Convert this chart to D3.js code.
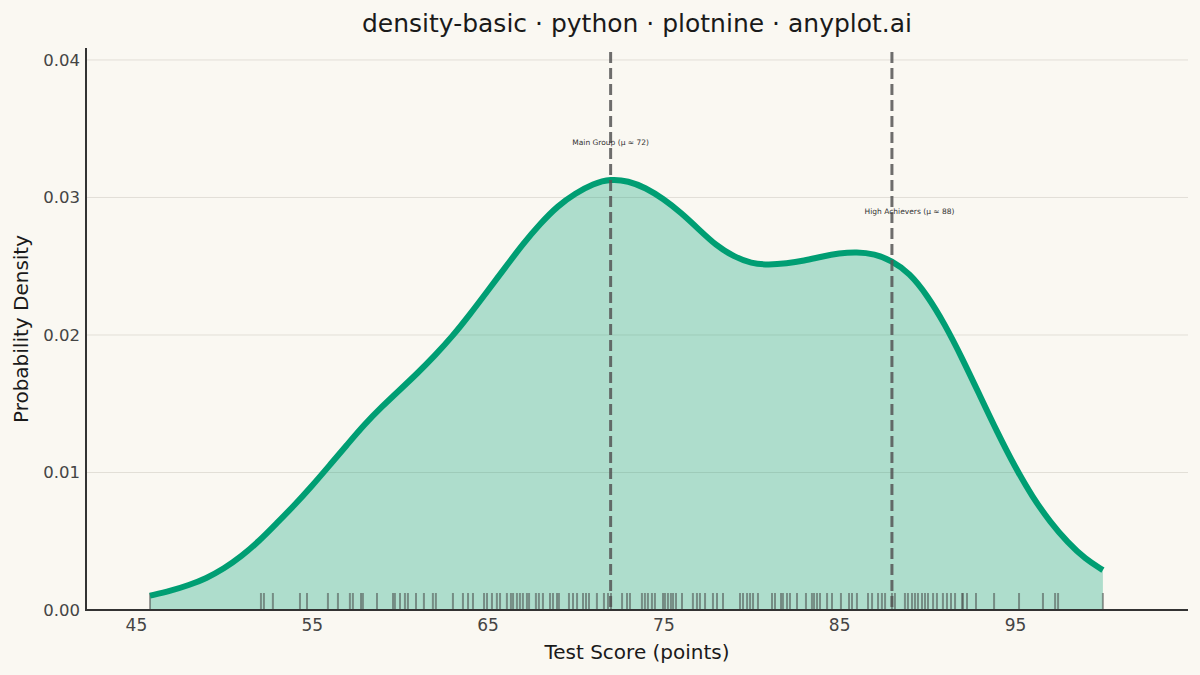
<!DOCTYPE html>
<html>
<head>
<meta charset="utf-8">
<script src="https://cdn.jsdelivr.net/npm/d3@7"></script>
<style>
  html, body { margin: 0; padding: 0; background: #FAF8F2; }
  svg { display: block; }
  text { font-family: "DejaVu Sans", sans-serif; }
</style>
</head>
<body>
<svg id="chart" width="1200" height="675"></svg>
<script>
// ---- Data ----
const curveX = [45.8, 47, 48, 49, 50, 51, 52, 53, 54, 55, 56, 57, 58, 59, 60, 61, 62, 63, 64, 65, 66, 67, 68, 69,
  70, 71, 72, 73, 74, 75, 76, 77, 78, 79, 80, 81, 82, 83, 84, 85, 86, 87, 88, 89, 90, 91, 92, 93, 94, 95,
  96, 97, 98, 99, 100];
const curveDensity = [0.00104, 0.00140, 0.00180, 0.00230, 0.00300, 0.00390, 0.00500, 0.00630, 0.00760, 0.00900,
  0.01050, 0.01200, 0.01350, 0.01480, 0.01600, 0.01720, 0.01850, 0.01990, 0.02150, 0.02320, 0.02490, 0.02660,
  0.02810, 0.02940, 0.03030, 0.03100, 0.03135, 0.03120, 0.03070, 0.02990, 0.02890, 0.02770, 0.02650, 0.02570,
  0.02520, 0.02510, 0.02520, 0.02540, 0.02570, 0.02595, 0.02604, 0.02590, 0.02540, 0.02450, 0.02290, 0.02080,
  0.01830, 0.01560, 0.01290, 0.01040, 0.00820, 0.00640, 0.00490, 0.00370, 0.00290];
const rugScores = [45.80, 52.11, 52.28, 52.79, 54.33, 54.73, 55.92, 56.49, 57.17, 57.34, 57.80, 57.91, 58.71,
  59.62, 59.73, 60.02, 60.30, 60.47, 60.93, 61.38, 61.89, 62.06, 63.03, 63.60, 63.89, 64.17, 64.80, 64.97,
  65.25, 65.53, 65.71, 66.10, 66.33, 66.45, 66.67, 66.84, 67.01, 67.24, 67.36, 67.75, 67.92, 68.15, 68.55,
  68.72, 68.95, 69.06, 69.63, 69.86, 70.09, 70.43, 70.60, 70.77, 71.22, 71.62, 71.85, 72.02, 72.65, 72.93,
  73.10, 73.78, 73.95, 74.12, 74.35, 74.52, 74.98, 75.09, 75.26, 75.43, 75.55, 75.72, 76.06, 76.68, 76.91,
  77.08, 77.37, 77.82, 78.05, 78.39, 79.36, 79.53, 79.76, 79.93, 80.10, 80.38, 81.18, 81.35, 81.69, 81.80,
  82.03, 82.20, 82.60, 83.11, 83.45, 83.57, 83.74, 83.91, 84.31, 84.59, 85.10, 85.56, 85.73, 86.01, 86.64,
  86.87, 87.21, 87.43, 87.61, 88.00, 88.17, 88.74, 88.91, 89.14, 89.31, 89.48, 89.71, 89.88, 90.05, 90.34,
  90.56, 90.90, 91.13, 91.36, 91.59, 91.99, 92.04, 92.27, 92.78, 93.81, 95.23, 96.59, 97.28, 97.45, 100.0];
const groupMeans = [72, 88];
const annotationLabels = ["Main Group (μ ≈ 72)", "High Achievers (μ ≈ 88)"];
const annotationX = [72, 89];
const annotationY = [0.0340, 0.0290];
const xTicks = [45, 55, 65, 75, 85, 95];
const yTicks = [0.00, 0.01, 0.02, 0.03, 0.04];

// ---- Layout ----
const W = 1200, H = 675;
const m = { left: 86, right: 12, top: 48, bottom: 65 };
const svg = d3.select("#chart");
svg.append("rect").attr("width", W).attr("height", H).attr("fill", "#FAF8F2");

const x = d3.scaleLinear().domain([42.16, 104.84]).range([m.left, W - m.right]);
const y = d3.scaleLinear().domain([0, 0.04087]).range([H - m.bottom, m.top]);

// gridlines
svg.append("g").selectAll("line").data(yTicks).join("line")
  .attr("x1", m.left).attr("x2", W - m.right)
  .attr("y1", d => y(d)).attr("y2", d => y(d))
  .attr("stroke", "#e2dfd7").attr("stroke-width", 1);

const pts = curveX.map((v, i) => [v, curveDensity[i]]);

// area fill
svg.append("path").datum(pts)
  .attr("d", d3.area().x(d => x(d[0])).y0(y(0)).y1(d => y(d[1])).curve(d3.curveBasis))
  .attr("fill", "#009E73").attr("fill-opacity", 0.3);

// rug
svg.append("g").selectAll("line").data(rugScores).join("line")
  .attr("x1", d => x(d)).attr("x2", d => x(d))
  .attr("y1", y(0)).attr("y2", y(0) - 17)
  .attr("stroke", "#3d3d3d").attr("stroke-opacity", 0.5).attr("stroke-width", 2);

// density line
svg.append("path").datum(pts)
  .attr("d", d3.line().x(d => x(d[0])).y(d => y(d[1])).curve(d3.curveBasis))
  .attr("fill", "none").attr("stroke", "#009E73").attr("stroke-width", 6)
  .attr("stroke-linecap", "butt").attr("stroke-linejoin", "round");

// mean lines
svg.append("g").selectAll("line").data(groupMeans).join("line")
  .attr("x1", d => x(d)).attr("x2", d => x(d))
  .attr("y1", m.top + 4).attr("y2", y(0))
  .attr("stroke", "#555").attr("stroke-opacity", 0.85).attr("stroke-width", 3)
  .attr("stroke-dasharray", "11,5");

// annotations
svg.append("g").selectAll("text").data(annotationLabels).join("text")
  .attr("x", (d, i) => x(annotationX[i])).attr("y", (d, i) => y(annotationY[i]))
  .attr("text-anchor", "middle").attr("dominant-baseline", "central")
  .attr("font-size", 7.5).attr("fill", "#333").text(d => d);

// axes lines
svg.append("line").attr("x1", m.left).attr("x2", m.left).attr("y1", m.top).attr("y2", y(0))
  .attr("stroke", "#333").attr("stroke-width", 2);
svg.append("line").attr("x1", m.left - 1).attr("x2", W - m.right).attr("y1", y(0)).attr("y2", y(0))
  .attr("stroke", "#333").attr("stroke-width", 2);

// tick labels via axes
const xAxis = svg.append("g").attr("transform", `translate(0,${y(0)})`)
  .call(d3.axisBottom(x).tickValues(xTicks).tickSize(0).tickPadding(9).tickFormat(d3.format("d")));
xAxis.select(".domain").remove();
xAxis.selectAll("text").attr("font-size", 17).attr("fill", "#444").attr("font-family", "DejaVu Sans");

const yAxis = svg.append("g").attr("transform", `translate(${m.left},0)`)
  .call(d3.axisLeft(y).tickValues(yTicks).tickSize(0).tickPadding(6).tickFormat(d3.format(".2f")));
yAxis.select(".domain").remove();
yAxis.selectAll("text").attr("font-size", 16.5).attr("fill", "#444").attr("font-family", "DejaVu Sans");

// titles
const cx = (m.left + W - m.right) / 2;
svg.append("text").attr("x", cx).attr("y", 32).attr("text-anchor", "middle")
  .attr("font-size", 25).attr("fill", "#1a1a1a").text("density-basic · python · plotnine · anyplot.ai");
svg.append("text").attr("x", cx).attr("y", 659).attr("text-anchor", "middle")
  .attr("font-size", 20).attr("fill", "#1a1a1a").text("Test Score (points)");
svg.append("text").attr("transform", `translate(28,${(m.top + y(0)) / 2}) rotate(-90)`)
  .attr("text-anchor", "middle").attr("font-size", 20).attr("fill", "#1a1a1a").text("Probability Density");
</script>
</body>
</html>
